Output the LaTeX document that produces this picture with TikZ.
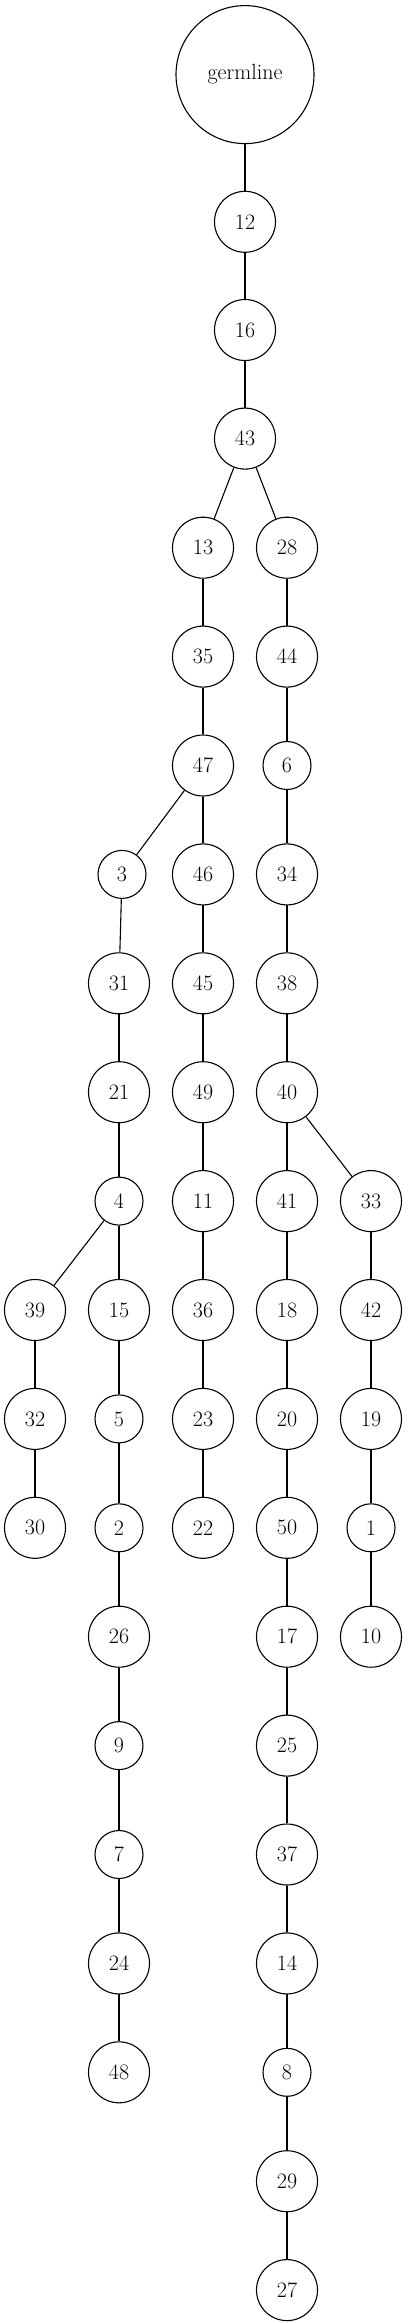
\documentclass[tikz,border=0pt]{standalone}
\begin{document}
\begin{tikzpicture}[x=1pt,y=-1pt,
  nd/.style={circle,draw,line width=1.1pt,minimum size=61pt,inner sep=0pt,font=\fontsize{22}{26}\selectfont},
  sm/.style={nd,minimum size=48pt},
  big/.style={nd,minimum size=138pt},
  ed/.style={line width=1.1pt}]
\useasboundingbox (0,0) rectangle (407,2323);
\def\rowy#1{547.7+#1*108.9}
\node[big] (g) at (245,74.6) {germline};
\node[nd] (n12) at (245,221.8) {12};
\node[nd] (n16) at (245,330) {16};
\node[nd] (n43) at (245,438.6) {43};
% row 0
\node[nd] (n13) at (203,{\rowy{0}}) {13};
\node[nd] (n28) at (287,{\rowy{0}}) {28};
\node[nd] (n35) at (203,{\rowy{1}}) {35};
\node[nd] (n44) at (287,{\rowy{1}}) {44};
\node[nd] (n47) at (203,{\rowy{2}}) {47};
\node[sm] (n6) at (287,{\rowy{2}}) {6};
\node[sm] (n3) at (122,{\rowy{3}}) {3};
\node[nd] (n46) at (203,{\rowy{3}}) {46};
\node[nd] (n34) at (287,{\rowy{3}}) {34};
\node[nd] (n31) at (119,{\rowy{4}}) {31};
\node[nd] (n45) at (203,{\rowy{4}}) {45};
\node[nd] (n38) at (287,{\rowy{4}}) {38};
\node[nd] (n21) at (119,{\rowy{5}}) {21};
\node[nd] (n49) at (203,{\rowy{5}}) {49};
\node[nd] (n40) at (287,{\rowy{5}}) {40};
\node[sm] (n4) at (119,{\rowy{6}}) {4};
\node[nd] (n11) at (203,{\rowy{6}}) {11};
\node[nd] (n41) at (287,{\rowy{6}}) {41};
\node[nd] (n33) at (371,{\rowy{6}}) {33};
\node[nd] (n39) at (35,{\rowy{7}}) {39};
\node[nd] (n15) at (119,{\rowy{7}}) {15};
\node[nd] (n36) at (203,{\rowy{7}}) {36};
\node[nd] (n18) at (287,{\rowy{7}}) {18};
\node[nd] (n42) at (371,{\rowy{7}}) {42};
\node[nd] (n32) at (35,{\rowy{8}}) {32};
\node[sm] (n5) at (119,{\rowy{8}}) {5};
\node[nd] (n23) at (203,{\rowy{8}}) {23};
\node[nd] (n20) at (287,{\rowy{8}}) {20};
\node[nd] (n19) at (371,{\rowy{8}}) {19};
\node[nd] (n30) at (35,{\rowy{9}}) {30};
\node[sm] (n2) at (119,{\rowy{9}}) {2};
\node[nd] (n22) at (203,{\rowy{9}}) {22};
\node[nd] (n50) at (287,{\rowy{9}}) {50};
\node[sm] (n1) at (371,{\rowy{9}}) {1};
\node[nd] (n26) at (119,{\rowy{10}}) {26};
\node[nd] (n17) at (287,{\rowy{10}}) {17};
\node[nd] (n10) at (371,{\rowy{10}}) {10};
\node[sm] (n9) at (119,{\rowy{11}}) {9};
\node[nd] (n25) at (287,{\rowy{11}}) {25};
\node[sm] (n7) at (119,{\rowy{12}}) {7};
\node[nd] (n37) at (287,{\rowy{12}}) {37};
\node[nd] (n24) at (119,{\rowy{13}}) {24};
\node[nd] (n14) at (287,{\rowy{13}}) {14};
\node[nd] (n48) at (119,{\rowy{14}}) {48};
\node[sm] (n8) at (287,{\rowy{14}}) {8};
\node[nd] (n29) at (287,{\rowy{15}}) {29};
\node[nd] (n27) at (287,{\rowy{16}}) {27};
\foreach \a/\b in {g/n12,n12/n16,n16/n43,n43/n13,n43/n28,n13/n35,n35/n47,n47/n3,n47/n46,
  n3/n31,n31/n21,n21/n4,n4/n39,n4/n15,n39/n32,n32/n30,n15/n5,n5/n2,n2/n26,n26/n9,n9/n7,n7/n24,n24/n48,
  n46/n45,n45/n49,n49/n11,n11/n36,n36/n23,n23/n22,
  n28/n44,n44/n6,n6/n34,n34/n38,n38/n40,n40/n41,n40/n33,n41/n18,n18/n20,n20/n50,n50/n17,n17/n25,
  n25/n37,n37/n14,n14/n8,n8/n29,n29/n27,n33/n42,n42/n19,n19/n1,n1/n10}
  \draw[ed] (\a) -- (\b);
\end{tikzpicture}
\end{document}
